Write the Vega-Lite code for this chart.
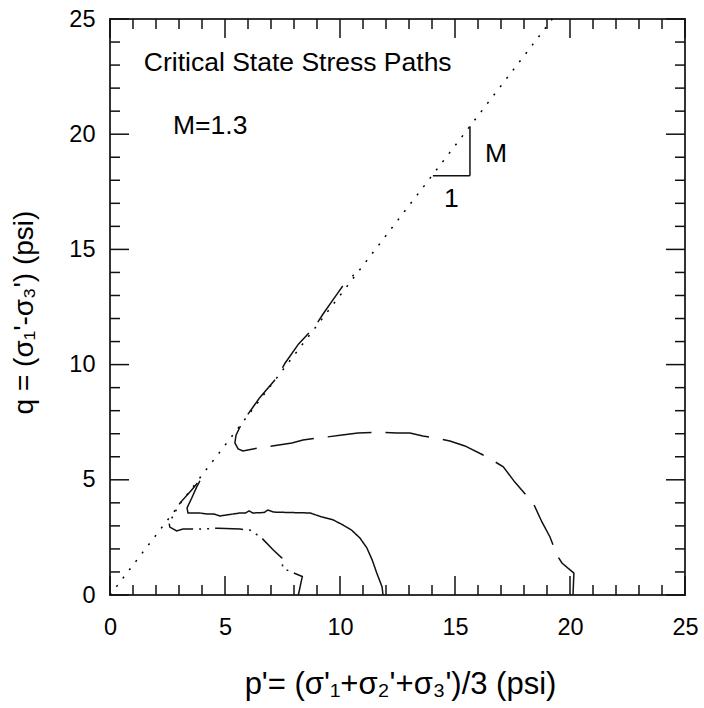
{
  "$schema": "https://vega.github.io/schema/vega-lite/v6.json",
  "width": 575,
  "height": 576,
  "autosize": "none",
  "padding": {"left": 110, "top": 19, "right": 19, "bottom": 113},
  "background": "white",
  "config": {
    "view": {"stroke": "#333", "strokeWidth": 2},
    "axis": {
      "labelFont": "Liberation Sans", "titleFont": "Liberation Sans",
      "labelColor": "black", "titleColor": "black",
      "labelFlush": false, "labelOverlap": false, "labelBound": false,
      "labelFontSize": 23.5, "titleFontSize": 28, "titleFontWeight": "normal",
      "domain": false, "ticks": false, "grid": false
    }
  },
  "datasets": {
    "csl": [{"p": 0, "q": 0}, {"p": 19.23, "q": 25}],
    "major": [{"v": 0}, {"v": 5}, {"v": 10}, {"v": 15}, {"v": 20}, {"v": 25}],
    "minor": [{"v": 1}, {"v": 2}, {"v": 3}, {"v": 4}, {"v": 6}, {"v": 7}, {"v": 8}, {"v": 9}, {"v": 11}, {"v": 12}, {"v": 13}, {"v": 14}, {"v": 16}, {"v": 17}, {"v": 18}, {"v": 19}, {"v": 21}, {"v": 22}, {"v": 23}, {"v": 24}],
    "paths": [
      {"path": "A", "i": 0, "p": 8.19, "q": 0},
      {"path": "A", "i": 1, "p": 8.36, "q": 0.8},
      {"path": "A", "i": 2, "p": 7.51, "q": 1.16},
      {"path": "A", "i": 3, "p": 7.48, "q": 1.6},
      {"path": "A", "i": 4, "p": 7.1, "q": 1.95},
      {"path": "A", "i": 5, "p": 6.6, "q": 2.47},
      {"path": "A", "i": 6, "p": 6.09, "q": 2.82},
      {"path": "A", "i": 7, "p": 5.65, "q": 2.86},
      {"path": "A", "i": 8, "p": 4.7, "q": 2.9},
      {"path": "A", "i": 9, "p": 3.91, "q": 2.86},
      {"path": "A", "i": 10, "p": 3.17, "q": 2.86},
      {"path": "A", "i": 11, "p": 2.9, "q": 2.78},
      {"path": "A", "i": 12, "p": 2.6, "q": 2.95},
      {"path": "A", "i": 13, "p": 2.57, "q": 3.12},
      {"path": "A", "i": 14, "p": 3.04, "q": 3.99},
      {"path": "A", "i": 15, "p": 3.55, "q": 4.56},
      {"path": "A", "i": 16, "p": 3.91, "q": 4.99},
      {"path": "B", "i": 0, "p": 11.87, "q": 0},
      {"path": "B", "i": 1, "p": 11.83, "q": 0.35},
      {"path": "B", "i": 2, "p": 11.6, "q": 0.95},
      {"path": "B", "i": 3, "p": 11.4, "q": 1.52},
      {"path": "B", "i": 4, "p": 11.17, "q": 2.04},
      {"path": "B", "i": 5, "p": 10.87, "q": 2.47},
      {"path": "B", "i": 6, "p": 10.5, "q": 2.82},
      {"path": "B", "i": 7, "p": 10.13, "q": 3.04},
      {"path": "B", "i": 8, "p": 9.7, "q": 3.26},
      {"path": "B", "i": 9, "p": 9.2, "q": 3.39},
      {"path": "B", "i": 10, "p": 8.7, "q": 3.56},
      {"path": "B", "i": 11, "p": 7.8, "q": 3.58},
      {"path": "B", "i": 12, "p": 7.1, "q": 3.6},
      {"path": "B", "i": 13, "p": 6.87, "q": 3.69},
      {"path": "B", "i": 14, "p": 6.7, "q": 3.58},
      {"path": "B", "i": 15, "p": 6.2, "q": 3.56},
      {"path": "B", "i": 16, "p": 6.05, "q": 3.65},
      {"path": "B", "i": 17, "p": 5.9, "q": 3.56},
      {"path": "B", "i": 18, "p": 5.65, "q": 3.56},
      {"path": "B", "i": 19, "p": 4.78, "q": 3.43},
      {"path": "B", "i": 20, "p": 4.5, "q": 3.52},
      {"path": "B", "i": 21, "p": 4.2, "q": 3.52},
      {"path": "B", "i": 22, "p": 3.9, "q": 3.56},
      {"path": "B", "i": 23, "p": 3.39, "q": 3.56},
      {"path": "B", "i": 24, "p": 3.35, "q": 3.78},
      {"path": "B", "i": 25, "p": 3.55, "q": 4.2},
      {"path": "B", "i": 26, "p": 3.77, "q": 4.69},
      {"path": "B", "i": 27, "p": 3.91, "q": 4.95},
      {"path": "C", "i": 0, "p": 20.13, "q": 0},
      {"path": "C", "i": 1, "p": 20.17, "q": 0.95},
      {"path": "C", "i": 2, "p": 19.65, "q": 1.39},
      {"path": "C", "i": 3, "p": 19.43, "q": 1.74},
      {"path": "C", "i": 4, "p": 19.13, "q": 2.52},
      {"path": "C", "i": 5, "p": 18.78, "q": 3.17},
      {"path": "C", "i": 6, "p": 18.4, "q": 3.99},
      {"path": "C", "i": 7, "p": 17.6, "q": 4.9},
      {"path": "C", "i": 8, "p": 17.1, "q": 5.56},
      {"path": "C", "i": 9, "p": 16.4, "q": 5.99},
      {"path": "C", "i": 10, "p": 15.43, "q": 6.47},
      {"path": "C", "i": 11, "p": 14.78, "q": 6.68},
      {"path": "C", "i": 12, "p": 14.2, "q": 6.81},
      {"path": "C", "i": 13, "p": 13.6, "q": 6.9},
      {"path": "C", "i": 14, "p": 13.04, "q": 7.03},
      {"path": "C", "i": 15, "p": 12.48, "q": 7.03},
      {"path": "C", "i": 16, "p": 11.74, "q": 7.07},
      {"path": "C", "i": 17, "p": 10.78, "q": 7.03},
      {"path": "C", "i": 18, "p": 10.09, "q": 6.94},
      {"path": "C", "i": 19, "p": 8.39, "q": 6.73},
      {"path": "C", "i": 20, "p": 7.91, "q": 6.6},
      {"path": "C", "i": 21, "p": 6.22, "q": 6.34},
      {"path": "C", "i": 22, "p": 5.78, "q": 6.25},
      {"path": "C", "i": 23, "p": 5.57, "q": 6.34},
      {"path": "C", "i": 24, "p": 5.43, "q": 6.6},
      {"path": "C", "i": 25, "p": 5.48, "q": 6.94},
      {"path": "C", "i": 26, "p": 5.65, "q": 7.29},
      {"path": "C", "i": 27, "p": 6.0, "q": 7.85},
      {"path": "C", "i": 28, "p": 6.49, "q": 8.54},
      {"path": "C", "i": 29, "p": 7.32, "q": 9.51},
      {"path": "C", "i": 30, "p": 7.61, "q": 10.06},
      {"path": "C", "i": 31, "p": 8.2, "q": 10.9},
      {"path": "C", "i": 32, "p": 8.91, "q": 11.65},
      {"path": "C", "i": 33, "p": 9.3, "q": 12.25},
      {"path": "C", "i": 34, "p": 9.9, "q": 13.1},
      {"path": "C", "i": 35, "p": 10.3, "q": 13.67},
      {"path": "C", "i": 36, "p": 10.6, "q": 13.89}
    ],
    "tri": [
      {"p": 14.04, "q": 18.2, "p2": 15.65, "q2": 18.2},
      {"p": 15.65, "q": 18.2, "p2": 15.65, "q2": 20.35}
    ],
    "notes": [
      {"label": "Critical State Stress Paths", "p": 1.47, "q": 22.74},
      {"label": "M=1.3", "p": 2.74, "q": 20.0},
      {"label": "M", "p": 16.3, "q": 18.81},
      {"label": "1", "p": 14.52, "q": 16.85}
    ]
  },
  "resolve": {"axis": {"x": "independent", "y": "independent"}},
  "layer": [
    {
      "data": {"name": "csl"},
      "mark": {"type": "line", "strokeDash": [2, 8.5], "strokeWidth": 1.5, "color": "black"},
      "encoding": {
        "x": {"field": "p", "type": "quantitative", "scale": {"domain": [0, 25], "nice": false, "zero": false},
          "axis": {"orient": "bottom", "values": [0, 5, 10, 15, 20, 25], "labelPadding": 20,
            "title": "p'= (σ'₁+σ₂'+σ₃')/3 (psi)", "titleFontSize": 31, "titleX": 290, "titleY": 98, "titleBaseline": "alphabetic"}},
        "y": {"field": "q", "type": "quantitative", "scale": {"domain": [0, 25], "nice": false, "zero": false},
          "axis": {"orient": "left", "values": [0, 5, 10, 15, 20, 25], "labelPadding": 15,
            "title": "q = (σ₁'-σ₃') (psi)", "titleX": -78, "titleY": 293, "titleBaseline": "alphabetic"}}
      }
    },
    {
      "data": {"name": "paths"},
      "mark": {"type": "line", "strokeWidth": 1.5, "color": "#111"},
      "encoding": {
        "x": {"field": "p", "type": "quantitative", "axis": null},
        "y": {"field": "q", "type": "quantitative", "axis": null},
        "detail": {"field": "path"},
        "order": {"field": "i", "type": "quantitative"},
        "strokeDash": {"field": "path", "type": "nominal", "legend": null,
          "scale": {"domain": ["A", "B", "C"], "range": [[28, 6, 2, 6, 2, 6], [1, 0], [44, 14]]}}
      }
    },
    {
      "data": {"name": "tri"},
      "mark": {"type": "rule", "strokeWidth": 1.5, "color": "#111"},
      "encoding": {
        "x": {"field": "p", "type": "quantitative", "axis": null},
        "x2": {"field": "p2"},
        "y": {"field": "q", "type": "quantitative", "axis": null},
        "y2": {"field": "q2"}
      }
    },
    {
      "data": {"name": "major"},
      "mark": {"type": "tick", "orient": "vertical", "size": 19, "thickness": 1.5, "yOffset": -9.5, "color": "#111", "opacity": 1},
      "encoding": {
        "x": {"field": "v", "type": "quantitative", "axis": null},
        "y": {"datum": 0, "type": "quantitative", "axis": null}
      }
    },
    {
      "data": {"name": "major"},
      "mark": {"type": "tick", "orient": "vertical", "size": 19, "thickness": 1.5, "yOffset": 9.5, "color": "#111", "opacity": 1},
      "encoding": {
        "x": {"field": "v", "type": "quantitative", "axis": null},
        "y": {"datum": 25, "type": "quantitative", "axis": null}
      }
    },
    {
      "data": {"name": "major"},
      "mark": {"type": "tick", "orient": "horizontal", "size": 19, "thickness": 1.5, "xOffset": 9.5, "color": "#111", "opacity": 1},
      "encoding": {
        "y": {"field": "v", "type": "quantitative", "axis": null},
        "x": {"datum": 0, "type": "quantitative", "axis": null}
      }
    },
    {
      "data": {"name": "major"},
      "mark": {"type": "tick", "orient": "horizontal", "size": 19, "thickness": 1.5, "xOffset": -9.5, "color": "#111", "opacity": 1},
      "encoding": {
        "y": {"field": "v", "type": "quantitative", "axis": null},
        "x": {"datum": 25, "type": "quantitative", "axis": null}
      }
    },
    {
      "data": {"name": "minor"},
      "mark": {"type": "tick", "orient": "vertical", "size": 10, "thickness": 1.5, "yOffset": -5, "color": "#111", "opacity": 1},
      "encoding": {
        "x": {"field": "v", "type": "quantitative", "axis": null},
        "y": {"datum": 0, "type": "quantitative", "axis": null}
      }
    },
    {
      "data": {"name": "minor"},
      "mark": {"type": "tick", "orient": "vertical", "size": 10, "thickness": 1.5, "yOffset": 5, "color": "#111", "opacity": 1},
      "encoding": {
        "x": {"field": "v", "type": "quantitative", "axis": null},
        "y": {"datum": 25, "type": "quantitative", "axis": null}
      }
    },
    {
      "data": {"name": "minor"},
      "mark": {"type": "tick", "orient": "horizontal", "size": 10, "thickness": 1.5, "xOffset": 5, "color": "#111", "opacity": 1},
      "encoding": {
        "y": {"field": "v", "type": "quantitative", "axis": null},
        "x": {"datum": 0, "type": "quantitative", "axis": null}
      }
    },
    {
      "data": {"name": "minor"},
      "mark": {"type": "tick", "orient": "horizontal", "size": 10, "thickness": 1.5, "xOffset": -5, "color": "#111", "opacity": 1},
      "encoding": {
        "y": {"field": "v", "type": "quantitative", "axis": null},
        "x": {"datum": 25, "type": "quantitative", "axis": null}
      }
    },
    {
      "data": {"name": "notes"},
      "mark": {"type": "text", "align": "left", "baseline": "alphabetic", "font": "Liberation Sans", "fontSize": 26.5, "color": "black"},
      "encoding": {
        "x": {"field": "p", "type": "quantitative", "axis": null},
        "y": {"field": "q", "type": "quantitative", "axis": null},
        "text": {"field": "label", "type": "nominal"}
      }
    }
  ]
}
